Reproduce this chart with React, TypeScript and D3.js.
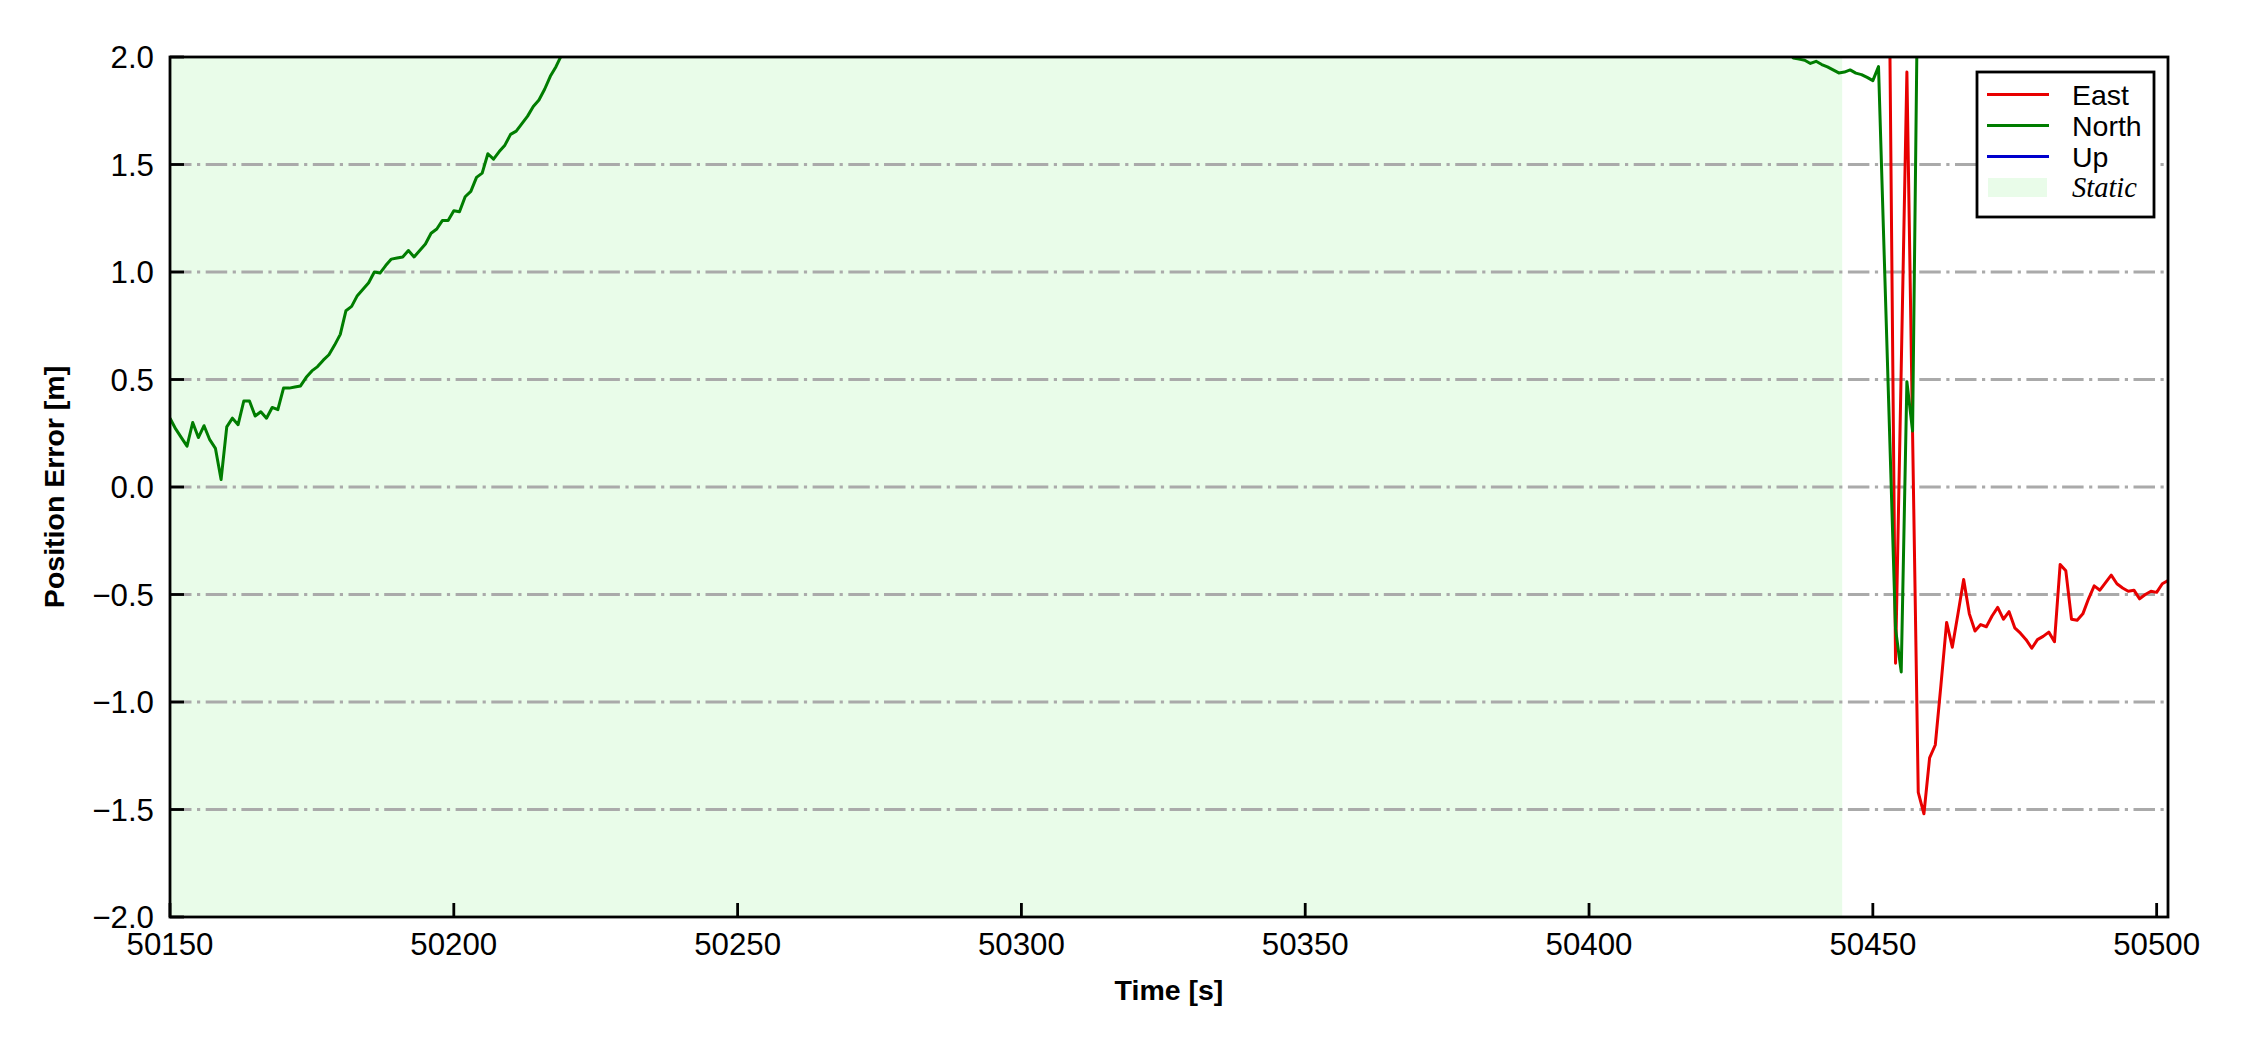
import React from "react";
import * as d3 from "d3";

// position error time series, 1 Hz
// values above 2 m run off the top of the axes and are clipped
const northHeadStart = 50150;
const northHead = [
  0.32, 0.27, 0.23, 0.19, 0.30, 0.23, 0.285, 0.22, 0.18, 0.035,
  0.28, 0.32, 0.29, 0.40, 0.40, 0.33, 0.35, 0.32, 0.37, 0.36,
  0.46, 0.46, 0.465, 0.47, 0.51, 0.54, 0.56, 0.59, 0.615, 0.66,
  0.71, 0.82, 0.84, 0.89, 0.92, 0.95, 1.00, 0.995, 1.03, 1.06,
  1.065, 1.07, 1.10, 1.07, 1.10, 1.13, 1.18, 1.20, 1.24, 1.24,
  1.285, 1.28, 1.35, 1.375, 1.44, 1.46, 1.55, 1.525, 1.56, 1.59,
  1.64, 1.655, 1.69, 1.725, 1.77, 1.80, 1.85, 1.91, 1.955, 2.01,
  2.07, 2.12,
];
const northTailStart = 50435;
const northTail = [
  2.03, 1.995, 1.99, 1.985, 1.97, 1.98, 1.965, 1.954, 1.94, 1.926,
  1.93, 1.94, 1.925, 1.918, 1.905, 1.89, 1.955, 1.08, 0.21, -0.66,
  -0.86, 0.49, 0.26, 2.6,
];
const eastStart = 50452;
const east = [
  2.6, 2.05, -0.82, 0.55, 1.93, 0.25, -1.42, -1.52, -1.26, -1.20,
  -0.92, -0.63, -0.745, -0.59, -0.43, -0.59, -0.67, -0.64, -0.65, -0.60,
  -0.56, -0.615, -0.58, -0.655, -0.68, -0.71, -0.75, -0.71, -0.695, -0.675,
  -0.72, -0.36, -0.39, -0.615, -0.62, -0.59, -0.52, -0.46, -0.48, -0.445,
  -0.41, -0.45, -0.47, -0.485, -0.48, -0.52, -0.50, -0.485, -0.49, -0.45,
  -0.435,
];
// Up never enters the visible range
const up: number[] = [];

const staticSpan = [50150, 50444.6];
const xTicks = [50150, 50200, 50250, 50300, 50350, 50400, 50450, 50500];
const yTicks = [-2, -1.5, -1, -0.5, 0, 0.5, 1, 1.5, 2];
const legendItems = ["East", "North", "Up"];
const legendColors = ["#e80000", "#007d00", "#0000cd"];

const toPoints = (start: number, vals: number[]) =>
  vals.map((v, i) => [start + i, v] as [number, number]);

export default function App() {
  const width = 2250;
  const height = 1050;
  const plot = { left: 170, right: 2168, top: 57, bottom: 917 };

  const x = d3.scaleLinear().domain([50150, 50502]).range([plot.left, plot.right]);
  const y = d3.scaleLinear().domain([-2, 2]).range([plot.bottom, plot.top]);

  const line = d3
    .line<[number, number]>()
    .x((d) => x(d[0]))
    .y((d) => y(d[1]));

  const northPts = [...toPoints(northHeadStart, northHead), ...toPoints(northTailStart, northTail)];
  const eastPts = toPoints(eastStart, east);
  const upPts = toPoints(50150, up);

  const fmt = d3.format(".1f");
  const sans = "'Liberation Sans', Arial, Helvetica, sans-serif";
  const tickFont = 31.25;
  const gridDash = "21.5,5.5,3.2,5.5";

  const legend = { x: 1977, y: 72, w: 177, h: 145 };
  const rowY = [94.5, 125.5, 156.5, 187.5];

  return (
    <svg
      width={width}
      height={height}
      style={{ position: "absolute", left: 0, top: 0, display: "block", background: "#fff" }}
      fontFamily={sans}
    >
      <defs>
        <clipPath id="plotClip">
          <rect x={plot.left} y={plot.top} width={plot.right - plot.left} height={plot.bottom - plot.top} />
        </clipPath>
      </defs>
      <rect width={width} height={height} fill="#fff" />

      {/* static period */}
      <rect
        x={x(staticSpan[0])}
        y={plot.top}
        width={x(staticSpan[1]) - x(staticSpan[0])}
        height={plot.bottom - plot.top}
        fill="lightgreen"
        fillOpacity={0.2}
      />

      {/* horizontal grid */}
      {yTicks
        .filter((t) => t > -2 && t < 2)
        .map((t) => (
          <line
            key={t}
            x1={plot.left}
            x2={plot.right}
            y1={y(t)}
            y2={y(t)}
            stroke="#aaaaaa"
            strokeWidth={3}
            strokeDasharray={gridDash}
          />
        ))}

      <g clipPath="url(#plotClip)" fill="none" strokeWidth={3} strokeLinejoin="round">
        <path d={line(eastPts) || ""} stroke={legendColors[0]} />
        <path d={line(northPts) || ""} stroke={legendColors[1]} />
        {upPts.length > 0 && <path d={line(upPts) || ""} stroke={legendColors[2]} />}
      </g>

      {/* frame */}
      <rect
        x={plot.left}
        y={plot.top}
        width={plot.right - plot.left}
        height={plot.bottom - plot.top}
        fill="none"
        stroke="#000"
        strokeWidth={2.8}
      />

      {/* y axis */}
      {yTicks.map((t) => (
        <g key={t}>
          <line x1={plot.left} x2={plot.left + 14} y1={y(t)} y2={y(t)} stroke="#000" strokeWidth={2.8} />
          <text x={plot.left - 16} y={y(t) + 11} textAnchor="end" fontSize={tickFont} fill="#000">
            {fmt(t)}
          </text>
        </g>
      ))}

      {/* x axis */}
      {xTicks.map((t) => (
        <g key={t}>
          <line x1={x(t)} x2={x(t)} y1={plot.bottom} y2={plot.bottom - 14} stroke="#000" strokeWidth={2.8} />
          <text x={x(t)} y={plot.bottom + 38} textAnchor="middle" fontSize={tickFont} fill="#000">
            {t}
          </text>
        </g>
      ))}

      <text
        x={(plot.left + plot.right) / 2}
        y={1000}
        textAnchor="middle"
        fontSize={28.5}
        fontWeight="bold"
        fill="#000"
      >
        Time [s]
      </text>
      <text
        transform={`translate(64, ${(plot.top + plot.bottom) / 2}) rotate(-90)`}
        textAnchor="middle"
        fontSize={28.5}
        fontWeight="bold"
        fill="#000"
      >
        Position Error [m]
      </text>

      {/* legend */}
      <g>
        <rect x={legend.x} y={legend.y} width={legend.w} height={legend.h} fill="#fff" stroke="#000" strokeWidth={2.8} />
        {legendItems.map((name, i) => (
          <g key={name}>
            <line x1={1987} x2={2049} y1={rowY[i]} y2={rowY[i]} stroke={legendColors[i]} strokeWidth={3} />
            <text x={2072} y={rowY[i] + 10.5} fontSize={28.5} fill="#000">
              {name}
            </text>
          </g>
        ))}
        <rect x={1988} y={rowY[3] - 9.5} width={59} height={19} fill="lightgreen" fillOpacity={0.2} />
        <text
          x={2072}
          y={rowY[3] + 9.5}
          fontSize={28.5}
          fontStyle="italic"
          fontFamily="'Liberation Serif', 'Times New Roman', serif"
          fill="#000"
        >
          Static
        </text>
      </g>
    </svg>
  );
}
